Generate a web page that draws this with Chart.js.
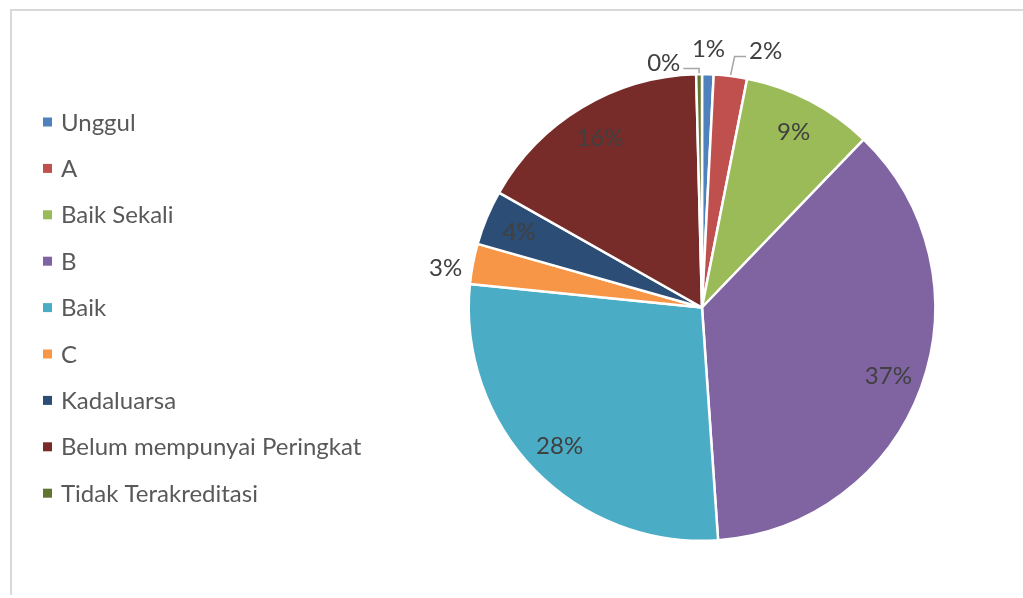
<!DOCTYPE html>
<html>
<head>
<meta charset="utf-8">
<title>Peringkat Akreditasi</title>
<script src="https://cdn.jsdelivr.net/npm/chart.js@4.4.0/dist/chart.umd.min.js"></script>
<style>
    html, body { margin: 0; padding: 0; background: #fff; }
    #wrap { position: relative; width: 1023px; height: 598px; overflow: hidden; }
    #frame { position: absolute; left: 10px; top: 9px; right: -4px; bottom: 3px;
             border-top: 2px solid #d9d9d9; border-left: 2px solid #d9d9d9; }
    canvas { position: absolute; left: 0; top: 0; }
</style>
</head>
<body>
<div id="wrap">
    <div id="frame"></div>
    <canvas id="pieAkreditasi" width="1023" height="598"></canvas>
</div>
<script>
const categories = ['Unggul', 'A', 'Baik Sekali', 'B', 'Baik', 'C', 'Kadaluarsa', 'Belum mempunyai Peringkat', 'Tidak Terakreditasi'];
const shares = [0.8, 2.3, 9.1, 36.7, 27.7, 2.8, 3.8, 16.4, 0.4];
const sliceColors = ['#4F81BD', '#C0504D', '#9BBB59', '#8064A2', '#4BACC6', '#F79646', '#2C4D75', '#772C2A', '#5F7530'];

// small slices get their label outside the pie, nudged a bit so they don't overlap
const outsideLabels = {
    0: { dx: 0, dy: 0, leader: null },
    1: { dx: 32, dy: 0, leader: 'left' },
    5: { dx: -2, dy: 9, leader: null },
    8: { dx: -35, dy: 14, leader: 'right' }
};

const FONT = '24px Lato';

const pieLabels = {
    id: 'pieLabels',
    afterDatasetsDraw(chart) {
        const ctx = chart.ctx;
        const meta = chart.getDatasetMeta(0);
        const data = chart.data.datasets[0].data;
        const total = data.reduce((acc, v) => acc + v, 0);
        ctx.save();
        ctx.font = FONT;
        ctx.textAlign = 'center';
        ctx.textBaseline = 'alphabetic';
        meta.data.forEach((arc, i) => {
            const { x, y, startAngle, endAngle, outerRadius } =
                arc.getProps(['x', 'y', 'startAngle', 'endAngle', 'outerRadius'], true);
            const mid = (startAngle + endAngle) / 2;
            const text = Math.round(data[i] / total * 100) + '%';
            const out = outsideLabels[i];
            const r = out ? outerRadius * 1.11 : outerRadius * 0.85;
            let lx = x + Math.cos(mid) * r;
            let ly = y + Math.sin(mid) * r;
            if (out) {
                lx += out.dx;
                ly += out.dy;
                if (out.leader) {
                    const w = ctx.measureText(text).width;
                    const ex = x + Math.cos(mid) * (outerRadius + 1);
                    const ey = y + Math.sin(mid) * (outerRadius + 1);
                    const sx = out.leader === 'left' ? lx - w / 2 - 3 : lx + w / 2 + 3;
                    const sy = ly + 6;
                    ctx.strokeStyle = '#a6a6a6';
                    ctx.lineWidth = 1.5;
                    ctx.beginPath();
                    ctx.moveTo(sx, sy);
                    ctx.lineTo(out.leader === 'left' ? ex + 4 : ex, sy);
                    ctx.lineTo(ex, ey);
                    ctx.stroke();
                }
            }
            ctx.fillStyle = '#404040';
            ctx.fillText(text, lx, ly + 8.5);
        });
        ctx.restore();
    }
};

const sideLegend = {
    id: 'sideLegend',
    afterDraw(chart) {
        const ctx = chart.ctx;
        const colors = chart.data.datasets[0].backgroundColor;
        ctx.save();
        ctx.font = FONT;
        ctx.textAlign = 'left';
        ctx.textBaseline = 'alphabetic';
        chart.data.labels.forEach((label, i) => {
            const cy = 122 + i * 46.4;
            ctx.fillStyle = colors[i];
            ctx.fillRect(43, cy - 4.5, 9, 9);
            ctx.fillStyle = '#595959';
            ctx.fillText(label, 61, cy + 8.5);
        });
        ctx.restore();
    }
};

const ctx = document.getElementById('pieAkreditasi').getContext('2d');
new Chart(ctx, {
    type: 'pie',
    data: {
        labels: categories,
        datasets: [{
            data: shares,
            backgroundColor: sliceColors,
            borderColor: '#ffffff',
            borderWidth: 2.5
        }]
    },
    options: {
        responsive: false,
        animation: false,
        layout: { padding: { left: 467, right: 86, top: 73, bottom: 56 } },
        plugins: {
            legend: { display: false },
            tooltip: { enabled: false }
        }
    },
    plugins: [pieLabels, sideLegend]
});
</script>
</body>
</html>
